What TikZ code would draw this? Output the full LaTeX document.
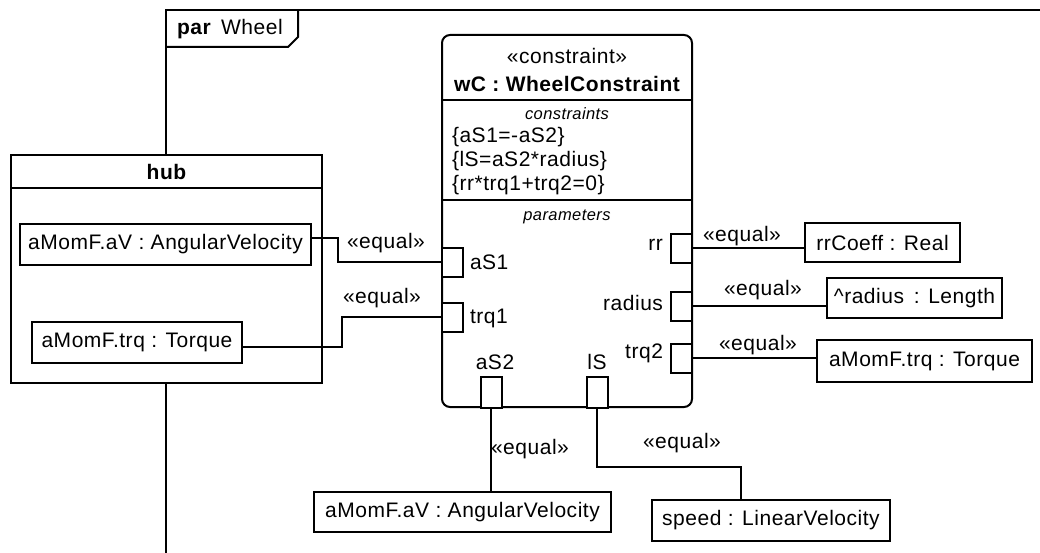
\documentclass[tikz,border=0pt]{standalone}
\usepackage{fontspec}
\setmainfont{Liberation Sans}[LetterSpace=2.5]
\begin{document}
\begin{tikzpicture}[x=1pt,y=-1pt, line width=2pt,
  every node/.style={font=\fontsize{21}{25}\selectfont, inner sep=0pt},
  box/.style={draw, fill=white, minimum height=41pt},
  port/.style={draw, fill=white, minimum width=21pt, minimum height=29pt},
  bport/.style={draw, fill=white, minimum width=21pt, minimum height=31pt},
  small/.style={font=\itshape\fontsize{16.5}{19}\selectfont},
  bold/.style={font=\bfseries\fontsize{21}{25}\selectfont}
]
\useasboundingbox (0,0) rectangle (1040,553);
% frame
\draw (166,553) -- (166,10) -- (1040,10);
\draw (166,47) -- (288,47) -- (298,37) -- (298,10);
\node[anchor=west] (ttl) at (176,29) {\textbf{par}\, Wheel};
% hub
\node[draw, fill=white, minimum width=311pt, minimum height=228pt] (hub) at (166.5,269) {};
\draw (11,188) -- (322,188);
\node[bold] (hubt) at (166.5,172) {hub};
\node[box, minimum width=291pt] (h1) at (165.5,244.5) {aMomF.aV : AngularVelocity};
\node[box, minimum width=210pt] (h2) at (137,342.5) {aMomF.trq : Torque};
% constraint block
\node[draw, fill=white, rounded corners=8pt, minimum width=250pt, minimum height=372pt] (wc) at (567,221) {};
\draw (442,100) -- (692,100);
\draw (442,200) -- (692,200);
\node (st) at (567,56) {«constraint»};
\node[bold] (nm) at (567,84) {wC : WheelConstraint};
\node[small] (cc) at (567,114) {constraints};
\node[anchor=west] (c1) at (451,137) {\{aS1=-aS2\}};
\node[anchor=west] (c2) at (451,161) {\{lS=aS2*radius\}};
\node[anchor=west] (c3) at (451,185) {\{rr*trq1+trq2=0\}};
\node[small] (pp) at (567,217) {parameters};
% port labels
\node[anchor=west] (lS1) at (469,262) {aS1};
\node[anchor=west] (lT1) at (469,318) {trq1};
\node[anchor=east] (lRR) at (664,245) {rr};
\node[anchor=east] (lRad) at (664,303) {radius};
\node[anchor=east] (lT2) at (664,353) {trq2};
\node (lS2) at (495,362) {aS2};
\node (lLS) at (597,362) {lS};
% outer boxes
\node[box, minimum width=155pt, minimum height=39pt] (rc) at (882.5,242.5) {rrCoeff : Real};
\node[box, minimum width=175pt, minimum height=40pt] (rl) at (914.5,298) {\textasciicircum radius\, : Length};
\node[box, minimum width=215pt, minimum height=42pt] (tq) at (924.5,361) {aMomF.trq : Torque};
\node[box, minimum width=297pt, minimum height=40pt] (bA) at (462.5,512) {aMomF.aV : AngularVelocity};
\node[box, minimum width=238pt, minimum height=41pt] (bS) at (771,520.5) {speed : LinearVelocity};
% ports
\node[port] (pS1) at (452.5,262) {};
\node[port] (pT1) at (452.5,317) {};
\node[port] (pRR) at (681,248) {};
\node[port] (pRad) at (681,306) {};
\node[port] (pT2) at (681,358) {};
\node[bport] (pS2) at (491,392.5) {};
\node[bport] (pLS) at (597,392.5) {};
% connectors
\draw ([yshift=6.5pt]h1.east) -| (338,262) -- (pS1.west);
\draw ([yshift=-4.5pt]h2.east) -| (342,317) -- (pT1.west);
\draw (pRR.east) -- (pRR.east -| rc.west);
\draw (pRad.east) -- (pRad.east -| rl.west);
\draw (pT2.east) -- (pT2.east -| tq.west);
\draw (pS2.south) -- (pS2.south |- bA.north);
\coordinate (k) at (741,467);
\draw (pLS.south) |- (k) -- (k |- bS.north);
% labels
\node (e1) at (386,243) {«equal»};
\node (e2) at (382,298) {«equal»};
\node (e3) at (742,236) {«equal»};
\node (e4) at (763,290) {«equal»};
\node (e5) at (758,345) {«equal»};
\node (e6) at (530,449) {«equal»};
\node (e7) at (682,443) {«equal»};
\end{tikzpicture}
\end{document}
